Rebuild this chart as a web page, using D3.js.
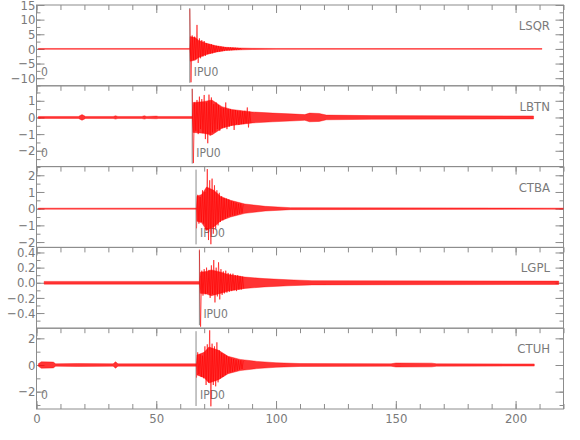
<!DOCTYPE html>
<html>
<head>
<meta charset="utf-8">
<script src="https://cdn.jsdelivr.net/npm/d3@7"></script>
<style>
  body { margin: 0; background: #fff; }
</style>
</head>
<body>
<script>
// station traces, one panel each
const stations = ["LSQR", "LBTN", "CTBA", "LGPL", "CTUH"];
const phaseLabels = ["IPU0", "IPU0", "IPD0", "IPU0", "IPD0"];
const weightLabels = ["0", "0", "", "", "0"];
const pickTimes = [64.0, 65.0, 66.6, 68.0, 66.6];
const codaStart = [64.0, 65.0, 66.8, 68.0, 66.8];
const yDomains = [[-12.6, 15], [-2.95, 1.9], [-2.32, 2.52], [-0.6, 0.467], [-3.3, 2.76]];
const yTickLabels = [[-10, -5, 0, 5, 10, 15], [-2, -1, 0, 1], [-2, -1, 0, 1, 2], [-0.4, -0.2, 0, 0.2, 0.4], [-2, 0, 2]];
const yMinorStep = [2.5, 0.5, 0.5, 0.1, 1];
const xTickLabels = [0, 50, 100, 150, 200];
const codaStep = 0.5; // seconds between the peaks below

// peak amplitudes after the pick (0.5 s apart)
const codaLSQR = [13.6, -11.4, 4.6, -3.8, 4.2, -3.5, 8.2, -4.8, 3.6, -3.2, 3.0, -2.6, 2.7, -2.4, 1.9, -1.8,
  1.7, -1.6, 1.6, -1.5, 1.3, -1.2, 1.1, -1.0, 1.0, -0.9, 0.8, -0.8, 0.7, -0.7, 0.6, -0.55, 0.55, -0.5,
  0.5, -0.45, 0.45, -0.4, 0.4, -0.4, 0.35, -0.35, 0.3, -0.3];
const codaLBTN = [1.72, -2.74, 0.9, -0.8, 1.05, -1.0, 1.25, -0.7, 1.1, -0.95, 1.35, -1.3, 0.9, -1.55, 1.37, -1.1,
  1.2, -0.9, 0.8, -0.85, 0.9, -0.7, 0.75, -0.8, 0.6, -0.65, 0.55, -0.6, 0.9, -0.7, 0.5, -0.55, 0.5, -0.5,
  0.45, -0.75, 0.45, -0.4, 0.4, -0.45, 0.4, -0.4, 0.35, -0.4, 0.4, -0.35, 0.6, -0.6, 0.35, -0.35];
const codaCTBA = [-1.18, 0.83, -0.9, 0.7, -0.8, 1.1, -0.9, 1.0, -1.3, 2.37, -1.88, 1.7, -2.13, 1.8, -1.5, 1.4,
  -1.2, 1.1, -1.0, 0.95, -0.8, 0.75, -0.7, 0.65, -0.6, 0.6, -0.5, 0.55, -0.45, 0.45, -0.4, 0.4, -0.4, 0.35,
  -0.35, 0.3, -0.3, 0.3, -0.25, 0.25];
const codaLGPL = [0.44, -0.58, 0.16, -0.17, 0.18, -0.15, 0.2, -0.14, 0.17, -0.2, 0.23, -0.15, 0.3, -0.26, 0.2, -0.18,
  0.27, -0.22, 0.18, -0.16, 0.15, -0.14, 0.16, -0.13, 0.13, -0.12, 0.12, -0.11, 0.12, -0.1, 0.1, -0.11,
  0.1, -0.09, 0.09, -0.09, 0.08, -0.08];
const codaCTUH = [-0.95, 0.95, -0.7, 0.8, -0.9, 0.7, -1.0, 1.4, -1.5, 1.55, -1.3, 2.6, -3.1, 1.6, -1.5, 1.4,
  -1.6, 1.7, -1.3, 1.1, -1.0, 0.9, -0.9, 0.8, -0.75, 0.7, -0.6, 0.6, -0.55, 0.5, -0.5, 0.45, -0.45, 0.4,
  -0.4, 0.35, -0.35, 0.35, -0.3, 0.3];

// band envelope knots [time, half width]: noise, coda body and late coda
const envLSQR = [[0.8, 0.15], [64, 0.15], [64.2, 4.2], [66.4, 3.8], [67.5, 3.0], [70.6, 2.0], [74.8, 1.1],
  [79, 0.55], [84.6, 0.32], [90, 0.2], [100, 0.15], [211, 0.13]];
const envLBTN = [[0.8, 0.06], [17.5, 0.06], [19, 0.17], [20.5, 0.06], [32, 0.06], [33, 0.1], [34, 0.06],
  [44, 0.06], [45, 0.1], [46, 0.06], [50, 0.08], [51, 0.06], [65.1, 0.06], [65.4, 0.9], [69.7, 0.95],
  [73.2, 1.05], [77.4, 0.65], [81.5, 0.48], [90, 0.33], [98.6, 0.26], [108, 0.2], [112, 0.17], [114, 0.26],
  [118, 0.24], [121, 0.14], [140, 0.11], [207.5, 0.09]];
const envCTBA = [[0.8, 0.03], [66.8, 0.03], [67, 0.75], [69, 0.85], [71, 1.3], [74, 1.1], [77, 0.72],
  [81, 0.5], [87, 0.28], [95.5, 0.14], [106, 0.06], [220, 0.03]];
const envLGPL = [[3.2, 0.018], [68.1, 0.018], [68.4, 0.14], [71, 0.15], [73, 0.17], [77, 0.14], [80, 0.11],
  [87, 0.075], [95, 0.055], [105, 0.04], [115, 0.028], [218, 0.022]];
const envCTUH = [[0.8, 0.1], [2, 0.24], [7, 0.22], [8, 0.09], [17, 0.11], [32, 0.09], [33, 0.24], [34, 0.09],
  [66.8, 0.09], [67, 0.75], [70, 0.95], [72, 1.35], [76, 1.1], [80, 0.65], [85, 0.42], [92, 0.27],
  [100, 0.17], [110, 0.11], [148, 0.09], [150, 0.15], [165, 0.14], [167, 0.09], [207.8, 0.08]];

const codas = [codaLSQR, codaLBTN, codaCTBA, codaLGPL, codaCTUH];
const envelopes = [envLSQR, envLBTN, envCTBA, envLGPL, envCTUH];

const width = 580, height = 440;
const plotLeft = 36.5, plotRight = 563.5, plotTop = 5, panelH = 80.8;
const axisColor = "#8c8c8c", textColor = "#7a7a7a", traceColor = "#ff0000";
const font = '"Liberation Sans Narrow", "DejaVu Sans Condensed", "Arial Narrow", sans-serif';

const svg = d3.select("body").append("svg")
  .attr("width", width)
  .attr("height", height)
  .style("font-family", font);

const x = d3.scaleLinear().domain([0, 220]).range([plotLeft, plotRight]);
const xMinor = d3.range(0, 221, 10);

function styleAxis(sel, size) {
  sel.selectAll("line").attr("stroke", axisColor);
  sel.selectAll("path").remove();
  sel.selectAll("text").attr("fill", textColor).style("font-size", size + "px").style("font-family", font);
}

stations.forEach((name, i) => {
  const top = plotTop + i * panelH;
  const bottom = top + panelH;
  const y = d3.scaleLinear().domain(yDomains[i]).range([bottom, top]);
  const g = svg.append("g");

  g.append("clipPath").attr("id", "clip" + i)
    .append("rect").attr("x", plotLeft).attr("y", top).attr("width", plotRight - plotLeft).attr("height", panelH);

  // frame
  g.append("rect")
    .attr("x", plotLeft).attr("y", top)
    .attr("width", plotRight - plotLeft).attr("height", panelH)
    .attr("fill", "none").attr("stroke", axisColor).attr("stroke-width", 1);

  // left axis
  const fmt = i === 3 ? d3.format(".1f") : d3.format("d");
  const minor = d3.range(Math.ceil(yDomains[i][0] / yMinorStep[i]) * yMinorStep[i], yDomains[i][1] + 1e-9, yMinorStep[i]);
  g.append("g").attr("transform", `translate(${plotLeft},0)`)
    .call(d3.axisLeft(y).tickValues(minor).tickSize(-4).tickSizeOuter(0).tickFormat(""))
    .call(s => styleAxis(s, 12));
  g.append("g").attr("transform", `translate(${plotLeft},0)`)
    .call(d3.axisLeft(y).tickValues(yTickLabels[i]).tickSize(-8).tickSizeOuter(0).tickPadding(1).tickFormat(fmt))
    .call(s => styleAxis(s, 13));

  // right axis
  g.append("g").attr("transform", `translate(${plotRight},0)`)
    .call(d3.axisRight(y).tickValues(minor).tickSize(-4).tickSizeOuter(0).tickFormat(""))
    .call(s => styleAxis(s, 12));
  g.append("g").attr("transform", `translate(${plotRight},0)`)
    .call(d3.axisRight(y).tickValues(yTickLabels[i]).tickSize(-8).tickSizeOuter(0).tickFormat(""))
    .call(s => styleAxis(s, 12));

  // top ticks
  g.append("g").attr("transform", `translate(0,${top})`)
    .call(d3.axisTop(x).tickValues(xMinor).tickSize(-5).tickSizeOuter(0).tickFormat(""))
    .call(s => styleAxis(s, 12));
  g.append("g").attr("transform", `translate(0,${top})`)
    .call(d3.axisTop(x).tickValues(xTickLabels).tickSize(-8).tickSizeOuter(0).tickFormat(""))
    .call(s => styleAxis(s, 12));

  if (i === stations.length - 1) {
    g.append("g").attr("transform", `translate(0,${bottom})`)
      .call(d3.axisBottom(x).tickValues(xMinor).tickSize(-5).tickSizeOuter(0).tickFormat(""))
      .call(s => styleAxis(s, 12));
    g.append("g").attr("transform", `translate(0,${bottom})`)
      .call(d3.axisBottom(x).tickValues(xTickLabels).tickSize(-8).tickSizeOuter(0).tickPadding(4.5).tickFormat(d3.format("d")))
      .call(s => styleAxis(s, 13));
  }

  // pick marker
  g.append("line")
    .attr("x1", x(pickTimes[i])).attr("x2", x(pickTimes[i]))
    .attr("y1", top + 3).attr("y2", bottom - 3)
    .attr("stroke", "#8c8c8c").attr("stroke-width", 1);

  // texts
  g.append("text")
    .attr("x", x(pickTimes[i]) + 4).attr("y", bottom - 10)
    .attr("fill", textColor).style("font-size", "12px")
    .text(phaseLabels[i]);
  if (weightLabels[i]) {
    g.append("text")
      .attr("x", 41).attr("y", bottom - 10)
      .attr("fill", textColor).style("font-size", "12px")
      .text(weightLabels[i]);
  }
  g.append("text")
    .attr("x", 550).attr("y", top + 25)
    .attr("text-anchor", "end")
    .attr("fill", textColor).style("font-size", "13px")
    .text(name);

  // trace: band + coda peaks
  const tr = g.append("g").attr("clip-path", `url(#clip${i})`);
  const area = d3.area()
    .x(d => x(d[0]))
    .y0(d => y(-d[1]))
    .y1(d => y(d[1]));
  tr.append("path")
    .attr("d", area(envelopes[i]))
    .attr("fill", traceColor).attr("fill-opacity", 0.8)
    .attr("stroke", traceColor).attr("stroke-opacity", 0.8).attr("stroke-width", 0.5);

  const line = d3.line()
    .x((d, k) => x(codaStart[i] + k * codaStep))
    .y(d => y(d));
  tr.append("path")
    .attr("d", line(codas[i]))
    .attr("fill", "none")
    .attr("stroke", traceColor).attr("stroke-opacity", 0.85).attr("stroke-width", 0.7);
});
</script>
</body>
</html>
